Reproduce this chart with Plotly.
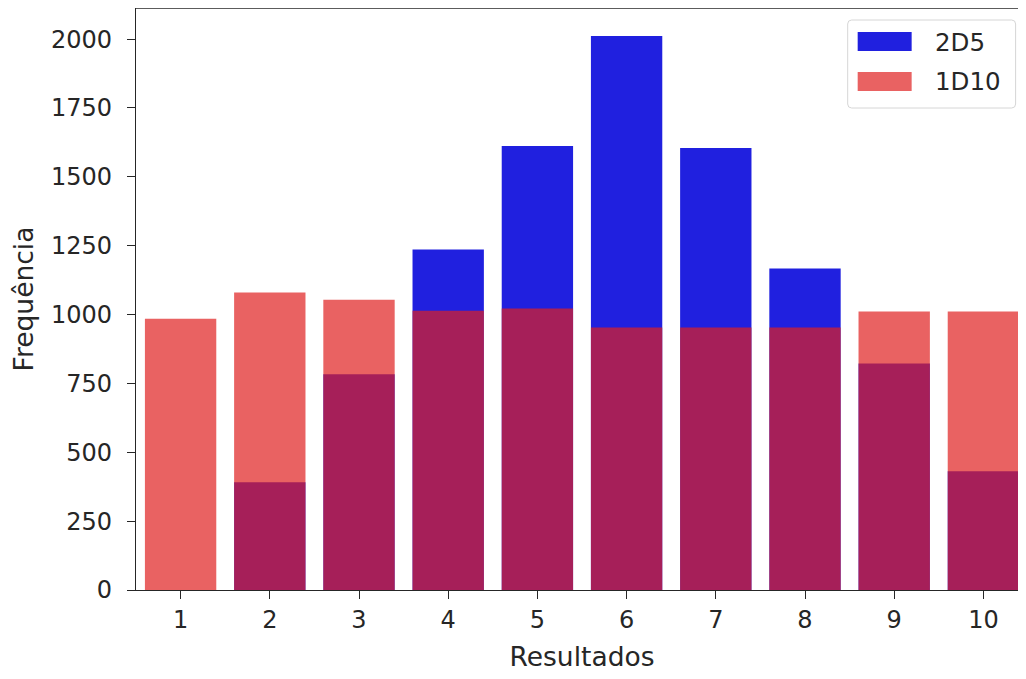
import plotly.graph_objects as go

categories = ["1", "2", "3", "4", "5", "6", "7", "8", "9", "10"]
freq_2d5 = [0, 391, 783, 1236, 1612, 2011, 1605, 1167, 822, 431]
freq_1d10 = [985, 1080, 1054, 1014, 1022, 953, 953, 953, 1011, 1011]
y_ticks = [0, 250, 500, 750, 1000, 1250, 1500, 1750, 2000]
series_names = ["2D5", "1D10"]

# page body adds an 8px offset; positions below are in screen pixels
OFF = 8
W, H = 1026, 679
L = 136 - OFF
T = 0
B = H - (590 - OFF)
R = W - (1028.4 - OFF)
PW, PH = W - L - R, H - T - B

TXT = "#262626"
BLUE = "rgb(32,32,223)"
RED = "rgba(223,32,32,0.7)"
FONT = "DejaVu Sans"
TICK_SIZE = 24
TITLE_SIZE = 26.5
LEG_SIZE = 24.5

fig = go.Figure()
fig.add_trace(go.Bar(x=categories, y=freq_2d5, name=series_names[0],
                     marker=dict(color=BLUE, line=dict(width=0)), width=0.8))
fig.add_trace(go.Bar(x=categories, y=freq_1d10, name=series_names[1],
                     marker=dict(color=RED, line=dict(width=0)), width=0.8))

def px(x):
    return (x - OFF - L) / PW

def py(y):
    return 1 - (y - OFF - T) / PH

shapes = []
# top spine
shapes.append(dict(type="line", xref="paper", yref="paper", x0=0, x1=1, y0=1, y1=1,
                   line=dict(color=TXT, width=1.3)))
# legend box (rounded)
x0, x1, y0, y1 = px(848), px(1016), py(108), py(20)
rx, ry = 4 / PW, 4 / PH
path = (f"M{x0+rx},{y0} L{x1-rx},{y0} Q{x1},{y0} {x1},{y0+ry} L{x1},{y1-ry} "
        f"Q{x1},{y1} {x1-rx},{y1} L{x0+rx},{y1} Q{x0},{y1} {x0},{y1-ry} "
        f"L{x0},{y0+ry} Q{x0},{y0} {x0+rx},{y0} Z")
shapes.append(dict(type="path", xref="paper", yref="paper", path=path,
                   fillcolor="rgba(255,255,255,0.8)", line=dict(color="#d6d6d6", width=1)))
# legend swatches
shapes.append(dict(type="rect", xref="paper", yref="paper", x0=px(858), x1=px(912),
                   y0=py(51), y1=py(32), fillcolor=BLUE, line=dict(width=0)))
shapes.append(dict(type="rect", xref="paper", yref="paper", x0=px(858), x1=px(912),
                   y0=py(91), y1=py(72), fillcolor=RED, line=dict(width=0)))

annotations = [
    dict(xref="paper", yref="paper", x=px(933), y=py(42), text=series_names[0],
         showarrow=False, xanchor="left", yanchor="middle",
         font=dict(family=FONT, size=LEG_SIZE, color=TXT)),
    dict(xref="paper", yref="paper", x=px(933), y=py(81), text=series_names[1],
         showarrow=False, xanchor="left", yanchor="middle",
         font=dict(family=FONT, size=LEG_SIZE, color=TXT)),
]

fig.update_layout(
    width=W, height=H,
    margin=dict(l=L, r=R, t=T, b=B, pad=0),
    paper_bgcolor="white", plot_bgcolor="white",
    barmode="overlay", bargap=0.2,
    showlegend=False,
    font=dict(family=FONT, size=TICK_SIZE, color=TXT),
    shapes=shapes, annotations=annotations,
    xaxis=dict(
        type="category", categoryorder="array", categoryarray=categories,
        range=[-0.5, 9.5],
        showline=True, linecolor=TXT, linewidth=1.3,
        ticks="outside", ticklen=8, tickwidth=1.3, tickcolor=TXT,
        showgrid=False, zeroline=False,
        tickfont=dict(family=FONT, size=TICK_SIZE, color=TXT),
        title=dict(text="Resultados", font=dict(family=FONT, size=TITLE_SIZE, color=TXT), standoff=14),
    ),
    yaxis=dict(
        range=[0, 2113],
        tickvals=y_ticks, ticktext=[str(v) for v in y_ticks],
        showline=True, linecolor=TXT, linewidth=1.3,
        ticks="outside", ticklen=8, tickwidth=1.3, tickcolor=TXT,
        ticklabelstandoff=10,
        showgrid=False, zeroline=False,
        tickfont=dict(family=FONT, size=TICK_SIZE, color=TXT),
        title=dict(text="Frequência", font=dict(family=FONT, size=TITLE_SIZE, color=TXT), standoff=12),
    ),
)

fig.write_html("out.html")
